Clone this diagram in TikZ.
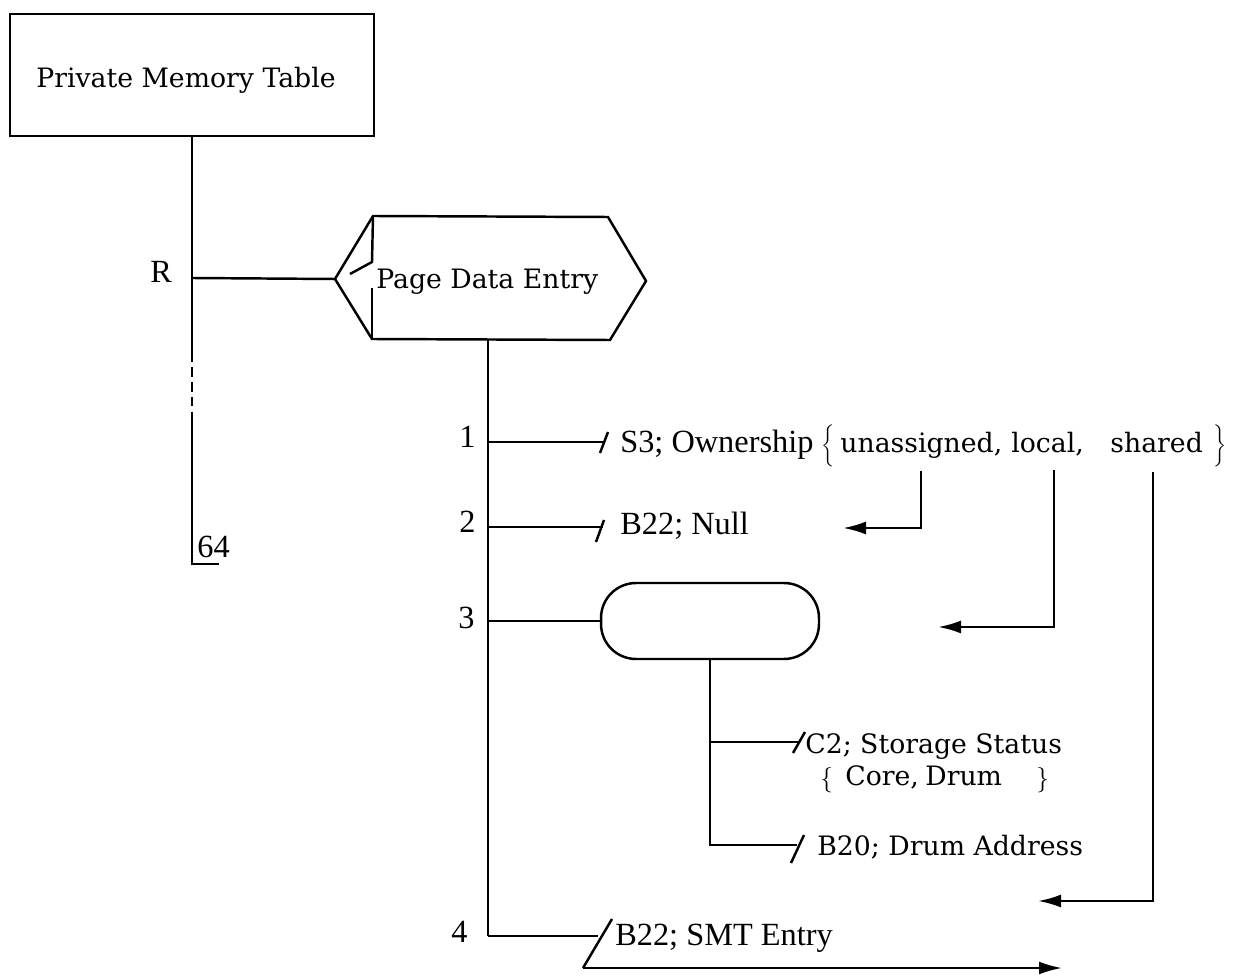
\documentclass[tikz,border=0pt]{standalone}
\usepackage{fontspec}
\newfontfamily\wide{DejaVu Serif}
\newfontfamily\narrow{Liberation Serif}
\usetikzlibrary{arrows.meta}
\newcommand{\lbrc}[2]{$\left\{\rule[-#1]{0pt}{#2}\right.$}
\newcommand{\rbrc}[2]{$\left.\rule[-#1]{0pt}{#2}\right\}$}
\tikzset{
  ln/.style={line width=1.4pt},
  arr/.style={ln, -{Latex[length=0.46cm,width=0.26cm]}},
  wt/.style={inner sep=0pt, anchor=base west, font=\wide\fontsize{15.2}{18}\selectfont},
  nt/.style={inner sep=0pt, anchor=base west, font=\narrow\fontsize{18.4}{22}\selectfont},
  boxed/.style={draw, ln, inner sep=0pt},
}
\begin{document}
\begin{tikzpicture}[x=0.02cm, y=-0.02cm, line join=miter]
\useasboundingbox (0,0) rectangle (1234,979);

% Private Memory Table
\node[boxed, minimum width=7.28cm, minimum height=2.44cm] (pmt) at (192,75) {};
\node[wt] (pmtlabel) at (36,88) {Private Memory Table};

% Page Data Entry (hexagon with notch)
\coordinate (hL) at (335,279);
\coordinate (hTL) at (373,216);
\coordinate (hTR) at (608,217);
\coordinate (hR) at (646,281);
\coordinate (hBR) at (610,340);
\coordinate (hBL) at (372,339);
\draw[ln] (hL) -- (hTL) -- (hTR) -- (hR) -- (hBR) -- (hBL) -- cycle;
\draw[ln] (hTL) -- (372,262) -- (350,274);
\draw[ln] (372,288) -- (hBL);
\node[wt] (pde) at (376,289) {Page Data Entry};
\coordinate (hB) at (488,340);

% PMT stem
\coordinate (rJ) at (192,278);
\coordinate (d1) at (192,352);
\coordinate (d2) at (192,417);
\coordinate (stemEnd) at (192,564);
\coordinate (stemTick) at (219,564);
\draw[ln] (pmt.south) -- (rJ) -- (d1);
\draw[ln, dash pattern=on 5.5pt off 3pt] (d1) -- (d2);
\draw[ln] (d2) -- (stemEnd) -- (stemTick);
\draw[ln] (rJ) -- (hL);
\node[nt] (R) at (150,283) {R};
\node[nt] (n64) at (197,558) {64};

% main stem
\coordinate (j4) at (488,936);
\draw[ln] (hB) -- (j4);

% item 1
\coordinate (j1) at (488,442);
\coordinate (e1) at (604,442);
\draw[ln] (j1) -- (e1);
\draw[ln] (600,453) -- (608,432);
\node[nt] (l1) at (459,448) {1};
\node[nt] (t1) at (620,453) {S3; Ownership};
\node[nt] (lb1) at (821,453) {\lbrc{5.5pt}{23pt}};
\node[wt] (wun) at (840,453) {unassigned,};
\node[wt] (wlo) at (1011,453) {local,};
\node[wt] (wsh) at (1110,453) {shared};
\node[nt] (rb1) at (1211,453) {\rbrc{5.5pt}{23pt}};

% item 2
\coordinate (j2) at (488,527);
\coordinate (e2) at (603,527);
\draw[ln] (j2) -- (e2);
\draw[ln] (596,542) -- (604,520);
\node[nt] (l2) at (459,533) {2};
\node[nt] (t2) at (620,535) {B22; Null};

% item 3
\coordinate (j3) at (488,621);
\node[boxed, rounded corners=0.7cm, minimum width=4.36cm, minimum height=1.52cm] (rb) at (710,621) {};
\draw[ln] (j3) -- (rb.west);
\node[nt] (l3) at (458,628) {3};
\coordinate (s1) at (710,742);
\coordinate (s2) at (710,845);
\draw[ln] (rb.south) -- (s2) -- (797,845);
\draw[ln] (s1) -- (800,742);
\draw[ln] (793,753) -- (805,732);
\draw[ln] (791,863) -- (804,835);
\node[wt] (tc2) at (805,753) {C2; Storage Status};
\node[wt] (lb2) at (820,786) {\lbrc{3.5pt}{14pt}};
\node[wt] (wcore) at (845,785) {Core,};
\node[wt] (wdrum) at (925,785) {Drum};
\node[wt] (rb2) at (1034,786) {\rbrc{3.5pt}{14pt}};
\node[wt] (tb20) at (817,855) {B20; Drum Address};

% item 4
\coordinate (e4) at (598,936);
\coordinate (sl4a) at (583,968);
\coordinate (sl4b) at (612,919);
\coordinate (out4) at (1062,968);
\draw[ln] (j4) -- (e4);
\draw[ln] (sl4a) -- (sl4b);
\draw[arr] (sl4a) -- (out4);
\node[nt] (l4) at (451,942) {4};
\node[nt] (t4) at (615,945) {B22; SMT Entry};

% ownership value arrows
\coordinate (uD) at (921,471);
\coordinate (uT) at (843,528);
\coordinate (lD) at (1054,470);
\coordinate (lT) at (938,627);
\coordinate (sD) at (1153,472);
\coordinate (sT) at (1038,901);
\draw[arr] (uD) -- (uD |- uT) -- (uT);
\draw[arr] (lD) -- (lD |- lT) -- (lT);
\draw[arr] (sD) -- (sD |- sT) -- (sT);
\end{tikzpicture}
\end{document}
